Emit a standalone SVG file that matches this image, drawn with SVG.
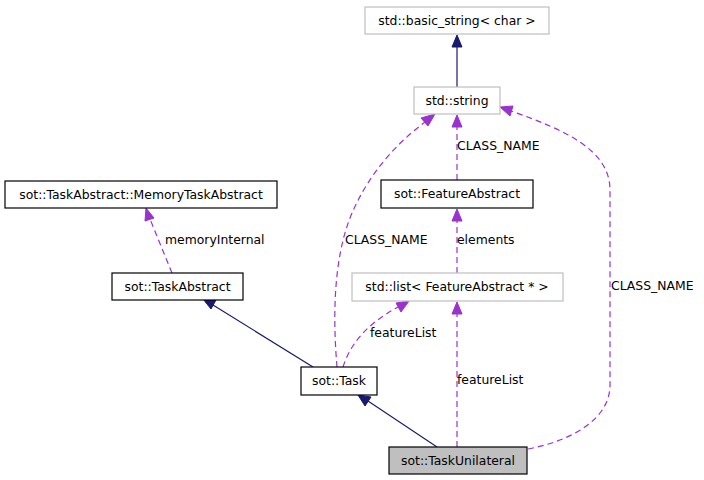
<svg xmlns="http://www.w3.org/2000/svg" width="704" height="480" viewBox="0 0 704 480">
<style>
text{font-family:"DejaVu Sans",sans-serif;font-size:12.4px;fill:#000}
.n text{text-anchor:middle}
.b{fill:#fff;stroke:#000;stroke-width:1.2}
.g{fill:#fff;stroke:#bfbfbf;stroke-width:1.2}
.sel{fill:#bfbfbf;stroke:#000;stroke-width:1.2}
.inh{fill:none;stroke:#191970;stroke-width:1.2}
.use{fill:none;stroke:#9a32cd;stroke-width:1.2;stroke-dasharray:6,4}
.ah{fill:#191970;stroke:#191970}
.ap{fill:#9a32cd;stroke:#9a32cd}
</style>
<rect width="704" height="480" fill="#fff"/>
<g id="connectors">
<path class="inh" d="M457,87 L457,46"/>
<polygon class="ah" points="457,35 462,47 452,47"/>
<path class="use" d="M457,180 L457,126"/>
<polygon class="ap" points="457,115 462,127 452,127"/>
<path class="use" d="M457,273 L457,220"/>
<polygon class="ap" points="457,209 462,221 452,221"/>
<path class="use" d="M457,447 L457,313"/>
<polygon class="ap" points="457,302 462,314 452,314"/>
<path class="use" d="M528,449 C570,441 610,420 610,385 L610,190 C610,150 565,130 511,111"/>
<polygon class="ap" points="500,107 513,106 510,116"/>
<path class="use" d="M337,367 C333,320 333,262 350,218 C366,178 393,146 425,122"/>
<polygon class="ap" points="435,114 428,126 421,118"/>
<path class="use" d="M343,367 C350,345 365,325 398,307"/>
<polygon class="ap" points="409,301 401,312 396,303"/>
<path class="inh" d="M313,367 L213,305"/>
<polygon class="ah" points="203,299 216,300 211,309"/>
<path class="use" d="M172,273 L150,219"/>
<polygon class="ap" points="146,208 154,218 145,221"/>
<path class="inh" d="M437,447 L368,401"/>
<polygon class="ah" points="358,395 371,397 365,406"/>
<text x="457" y="150">CLASS_NAME</text>
<text x="457" y="244">elements</text>
<text x="457" y="384">featureList</text>
<text x="611" y="290">CLASS_NAME</text>
<text x="345" y="244">CLASS_NAME</text>
<text x="370" y="337">featureList</text>
<text x="165" y="244">memoryInternal</text>
</g>
<g id="basic_string" class="n"><rect class="g" x="365" y="7" width="184" height="27"/><text x="457" y="25">std::basic_string&lt; char &gt;</text></g>
<g id="string" class="n"><rect class="g" x="414" y="87" width="86" height="27"/><text x="457" y="105">std::string</text></g>
<g id="FeatureAbstract" class="n"><rect class="b" x="381" y="180" width="152" height="28"/><text x="457" y="198">sot::FeatureAbstract</text></g>
<g id="list" class="n"><rect class="g" x="352" y="273" width="211" height="28"/><text x="457" y="291">std::list&lt; FeatureAbstract * &gt;</text></g>
<g id="MemoryTaskAbstract" class="n"><rect class="b" x="5" y="181" width="272" height="27"/><text x="141" y="199">sot::TaskAbstract::MemoryTaskAbstract</text></g>
<g id="TaskAbstract" class="n"><rect class="b" x="112" y="273" width="131" height="27"/><text x="177.5" y="291">sot::TaskAbstract</text></g>
<g id="Task" class="n"><rect class="b" x="301" y="367" width="76" height="28"/><text x="339" y="385">sot::Task</text></g>
<g id="TaskUnilateral" class="n"><rect class="sel" x="389" y="447" width="138" height="27"/><text x="458" y="465">sot::TaskUnilateral</text></g>
</svg>
